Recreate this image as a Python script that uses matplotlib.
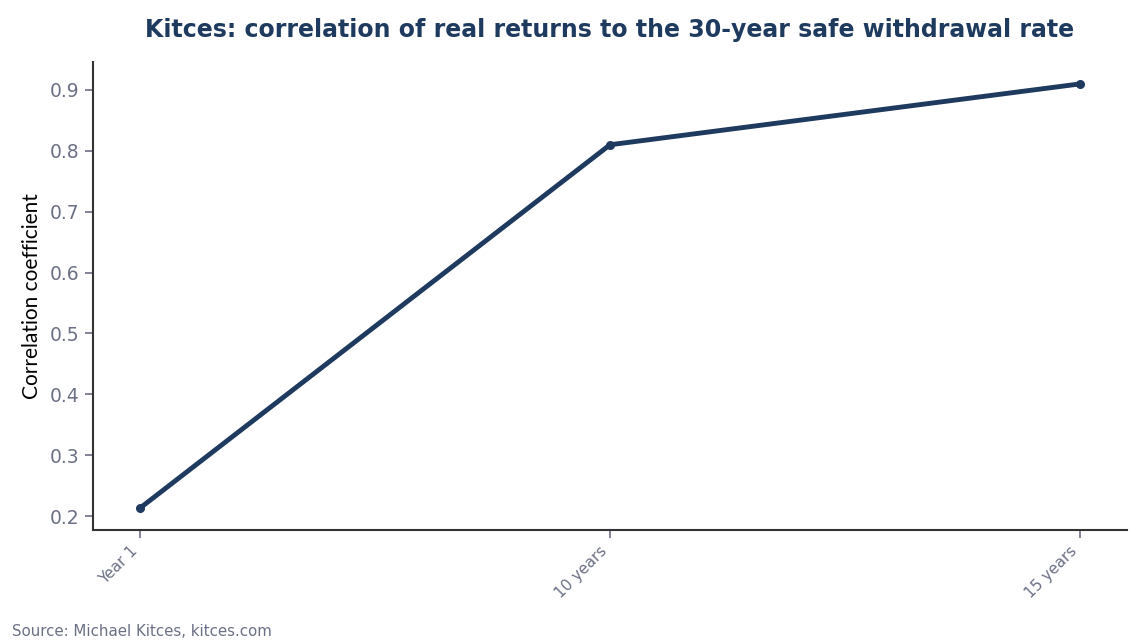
import matplotlib
matplotlib.use("Agg")
import matplotlib.pyplot as plt

plt.rcParams["font.family"] = ["DejaVu Sans"]

# data
periods = ["Year 1", "10 years", "15 years"]
correlation = [0.213, 0.81, 0.91]

NAVY = "#1f3a5f"
GREY = "#6b7085"

fig = plt.figure(figsize=(11.48, 6.44), dpi=100)
ax = fig.add_axes([93 / 1148, 1 - 530 / 644, (1127 - 93) / 1148, (530 - 62) / 644])

x = list(range(len(periods)))
ax.plot(x, correlation, color=NAVY, linewidth=3.5, marker="o", markersize=5.5)

ax.set_xlim(-0.1, 2.1)
ax.set_ylim(0.177, 0.946)
ax.set_xticks(x)
ax.set_xticklabels(periods, rotation=45, ha="right", fontsize=11, color=GREY)
ax.set_yticks([0.2, 0.3, 0.4, 0.5, 0.6, 0.7, 0.8, 0.9])
ax.set_yticklabels([f"{v:.1f}" for v in ax.get_yticks()], fontsize=13.5, color=GREY)
ax.tick_params(axis="both", colors=GREY, length=6, width=1.2)

for side in ["top", "right"]:
    ax.spines[side].set_visible(False)
for side in ["left", "bottom"]:
    ax.spines[side].set_color("#333333")
    ax.spines[side].set_linewidth(1.5)

ax.set_ylabel("Correlation coefficient", fontsize=15, color="black",
              family=["Lato", "DejaVu Sans"], labelpad=6)
ax.set_title("Kitces: correlation of real returns to the 30-year safe withdrawal rate",
             fontsize=17, fontweight="bold", color=NAVY, pad=18)

fig.text(12 / 1148, 1 - 632 / 644, "Source: Michael Kitces, kitces.com", fontsize=10.8, color=GREY, va="center")

fig.savefig("out.png", dpi=100)
